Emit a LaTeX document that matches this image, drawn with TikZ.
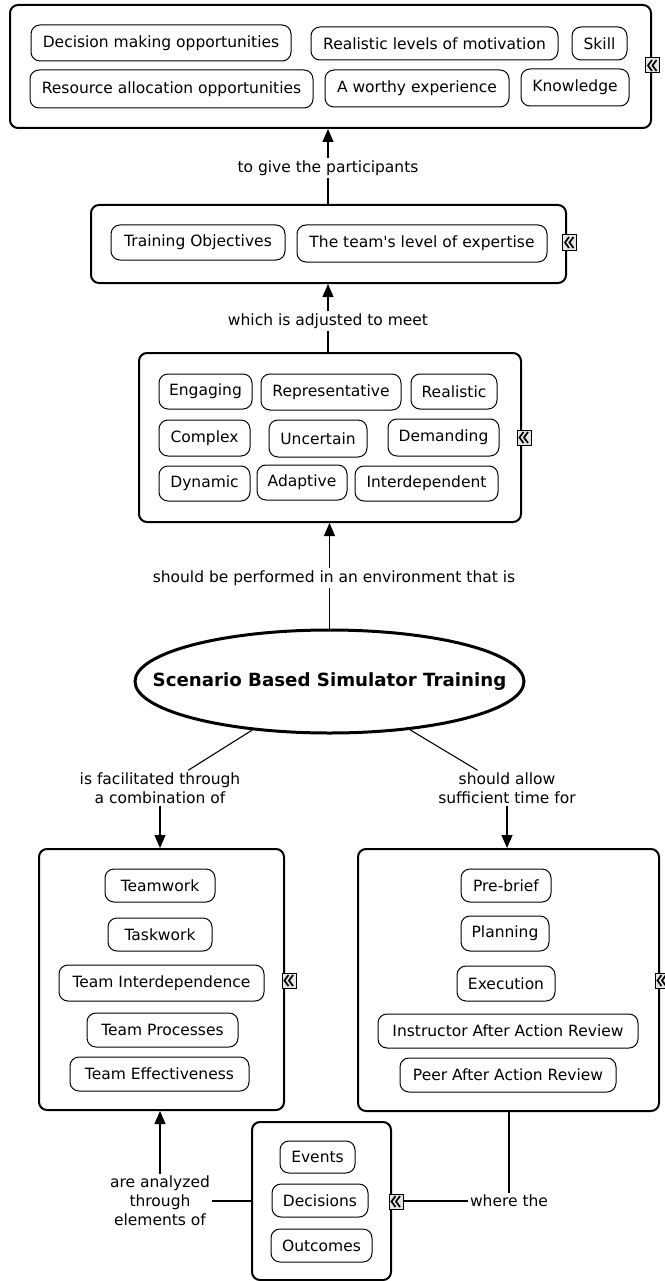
\documentclass[tikz,border=0pt]{standalone}
\usepackage{fontspec}
\setmainfont{DejaVu Sans}
\usetikzlibrary{arrows.meta,shapes.geometric}
\newcommand\ibox[6]{\node[ib,minimum width=#4pt,minimum height=#5pt] (#1) at (#2,#3) {#6};}
\begin{document}
\begin{tikzpicture}[x=1pt,y=-1pt,
  outer/.style={draw, rounded corners=8pt, line width=2pt, inner sep=0pt},
  ib/.style={draw, rounded corners=9pt, line width=1pt, inner sep=0pt, font=\fontsize{15.5}{19}\selectfont},
  lab/.style={align=center, inner sep=2pt, font=\fontsize{15.5}{19}\selectfont},
  conn/.style={line width=1.1pt},
  arr/.style={conn, -{Triangle[width=11pt,length=13pt]}},
  collapse/.pic={
    \draw[fill=gray!20, line width=1pt] (-7,-7.5) rectangle (7,7.5);
    \draw[line width=1.7pt, line join=miter] (-0.5,-5.5) -- (-4.5,0) -- (-0.5,5.5)
      (4,-5.5) -- (0,0) -- (4,5.5);
  },
]
\useasboundingbox (0,0) rectangle (664,1281);

% top box
\node[outer, minimum width=641pt, minimum height=123pt] (top) at (330.5,66.5) {};
\ibox{dmo}{161}{43}{260}{36}{Decision making opportunities}
\ibox{rlm}{434.5}{43.5}{247}{33}{Realistic levels of motivation}
\ibox{skl}{599.5}{43.5}{55}{33}{Skill}
\ibox{rao}{171.5}{89}{283}{38}{Resource allocation opportunities}
\ibox{awe}{417}{88.5}{184}{37}{A worthy experience}
\ibox{knw}{575}{87.5}{108}{37}{Knowledge}

% second box
\node[outer, minimum width=475pt, minimum height=78pt] (box2) at (328.5,244) {};
\ibox{tro}{198}{242.5}{174}{35}{Training Objectives}
\ibox{tle}{422}{243.5}{250}{37}{The team\textquotesingle s level of expertise}

% third box
\node[outer, minimum width=382pt, minimum height=169pt] (box3) at (330,437.5) {};
\ibox{eng}{205.5}{391.5}{93}{35}{Engaging}
\ibox{rep}{331}{392}{140}{36}{Representative}
\ibox{rea}{454}{391.5}{86}{35}{Realistic}
\ibox{cpx}{204.5}{438}{91}{36}{Complex}
\ibox{unc}{318}{438.5}{98}{37}{Uncertain}
\ibox{dem}{443.5}{437.5}{111}{37}{Demanding}
\ibox{dyn}{204.5}{483.5}{91}{35}{Dynamic}
\ibox{ada}{302}{482.5}{90}{35}{Adaptive}
\ibox{itd}{426.5}{483.5}{143}{35}{Interdependent}

% central ellipse
\node[ellipse, draw, line width=3pt, inner sep=0pt, minimum width=389pt, minimum height=103pt] (ell) at (329.5,681.5) {};
\node[inner sep=0pt, font=\fontsize{18.2}{22}\selectfont\bfseries] (elltext) at (ell.center) {Scenario Based Simulator Training};

% left box
\node[outer, minimum width=245pt, minimum height=261pt] (boxL) at (161.5,979.5) {};
\ibox{tmw}{160}{885.5}{110}{33}{Teamwork}
\ibox{tsk}{160}{934.5}{104}{33}{Taskwork}
\ibox{tid}{161.5}{983}{205}{36}{Team Interdependence}
\ibox{tpr}{162.5}{1030}{151}{34}{Team Processes}
\ibox{tef}{159.5}{1074}{179}{34}{Team Effectiveness}

% right box
\node[outer, minimum width=301pt, minimum height=262pt] (boxR) at (508.5,980) {};
\ibox{prb}{506}{885.5}{90}{33}{Pre-brief}
\ibox{pln}{505}{933.5}{88}{35}{Planning}
\ibox{exe}{506}{983.5}{98}{35}{Execution}
\ibox{iaa}{508}{1031}{260}{34}{Instructor After Action Review}
\ibox{paa}{508}{1075}{216}{34}{Peer After Action Review}

% bottom box
\node[outer, minimum width=139pt, minimum height=158pt] (boxB) at (321.5,1201) {};
\ibox{evt}{317.5}{1157}{75}{32}{Events}
\ibox{dec}{320}{1200.5}{96}{33}{Decisions}
\ibox{out}{321.5}{1245.5}{101}{33}{Outcomes}

% linking phrases
\node[lab] (lab1) at (328,168) {to give the participants};
\node[lab] (lab2) at (328,321) {which is adjusted to meet};
\node[lab] (lab3) at (334,578) {should be performed in an environment that is};
\node[lab] (labL) at (160,788) {is facilitated through\\a combination of};
\node[lab] (labR) at (507,788) {should allow\\sufficient time for};
\node[lab] (wt) at (509,1201) {where the};
\node[lab] (labA) at (160,1201) {are analyzed\\through\\elements of};

% connectors
\draw[conn] (box2.north -| lab1.south) -- (lab1.south);
\draw[arr] (lab1.north) -- (lab1.north |- top.south);
\draw[conn] (box3.north -| lab2.south) -- (lab2.south);
\draw[arr] (lab2.north) -- (lab2.north |- box2.south);
\draw[conn] (ell.north) -- (ell.north |- lab3.south);
\draw[arr] (ell.north |- lab3.north) -- (ell.north |- box3.south);
\draw[conn] (ell) -- (labL);
\draw[arr] (labL.south) -- (labL.south |- boxL.north);
\draw[conn] (ell) -- (labR);
\draw[arr] (labR.south) -- (labR.south |- boxR.north);
\draw[conn] (boxR.south -| wt.north) -- (wt.north);
\draw[conn] (wt.west) -- (boxB.east);
\draw[conn] (boxB.west) -- (labA.east);
\draw[arr] (labA.north) -- (labA.north |- boxL.south);

% collapse icons
\pic at (652.5,65.5) {collapse};
\pic at (569.5,242.5) {collapse};
\pic at (524,437.5) {collapse};
\pic at (289,980.5) {collapse};
\pic at (662,980.5) {collapse};
\pic at (396,1201.5) {collapse};
\end{tikzpicture}
\end{document}
